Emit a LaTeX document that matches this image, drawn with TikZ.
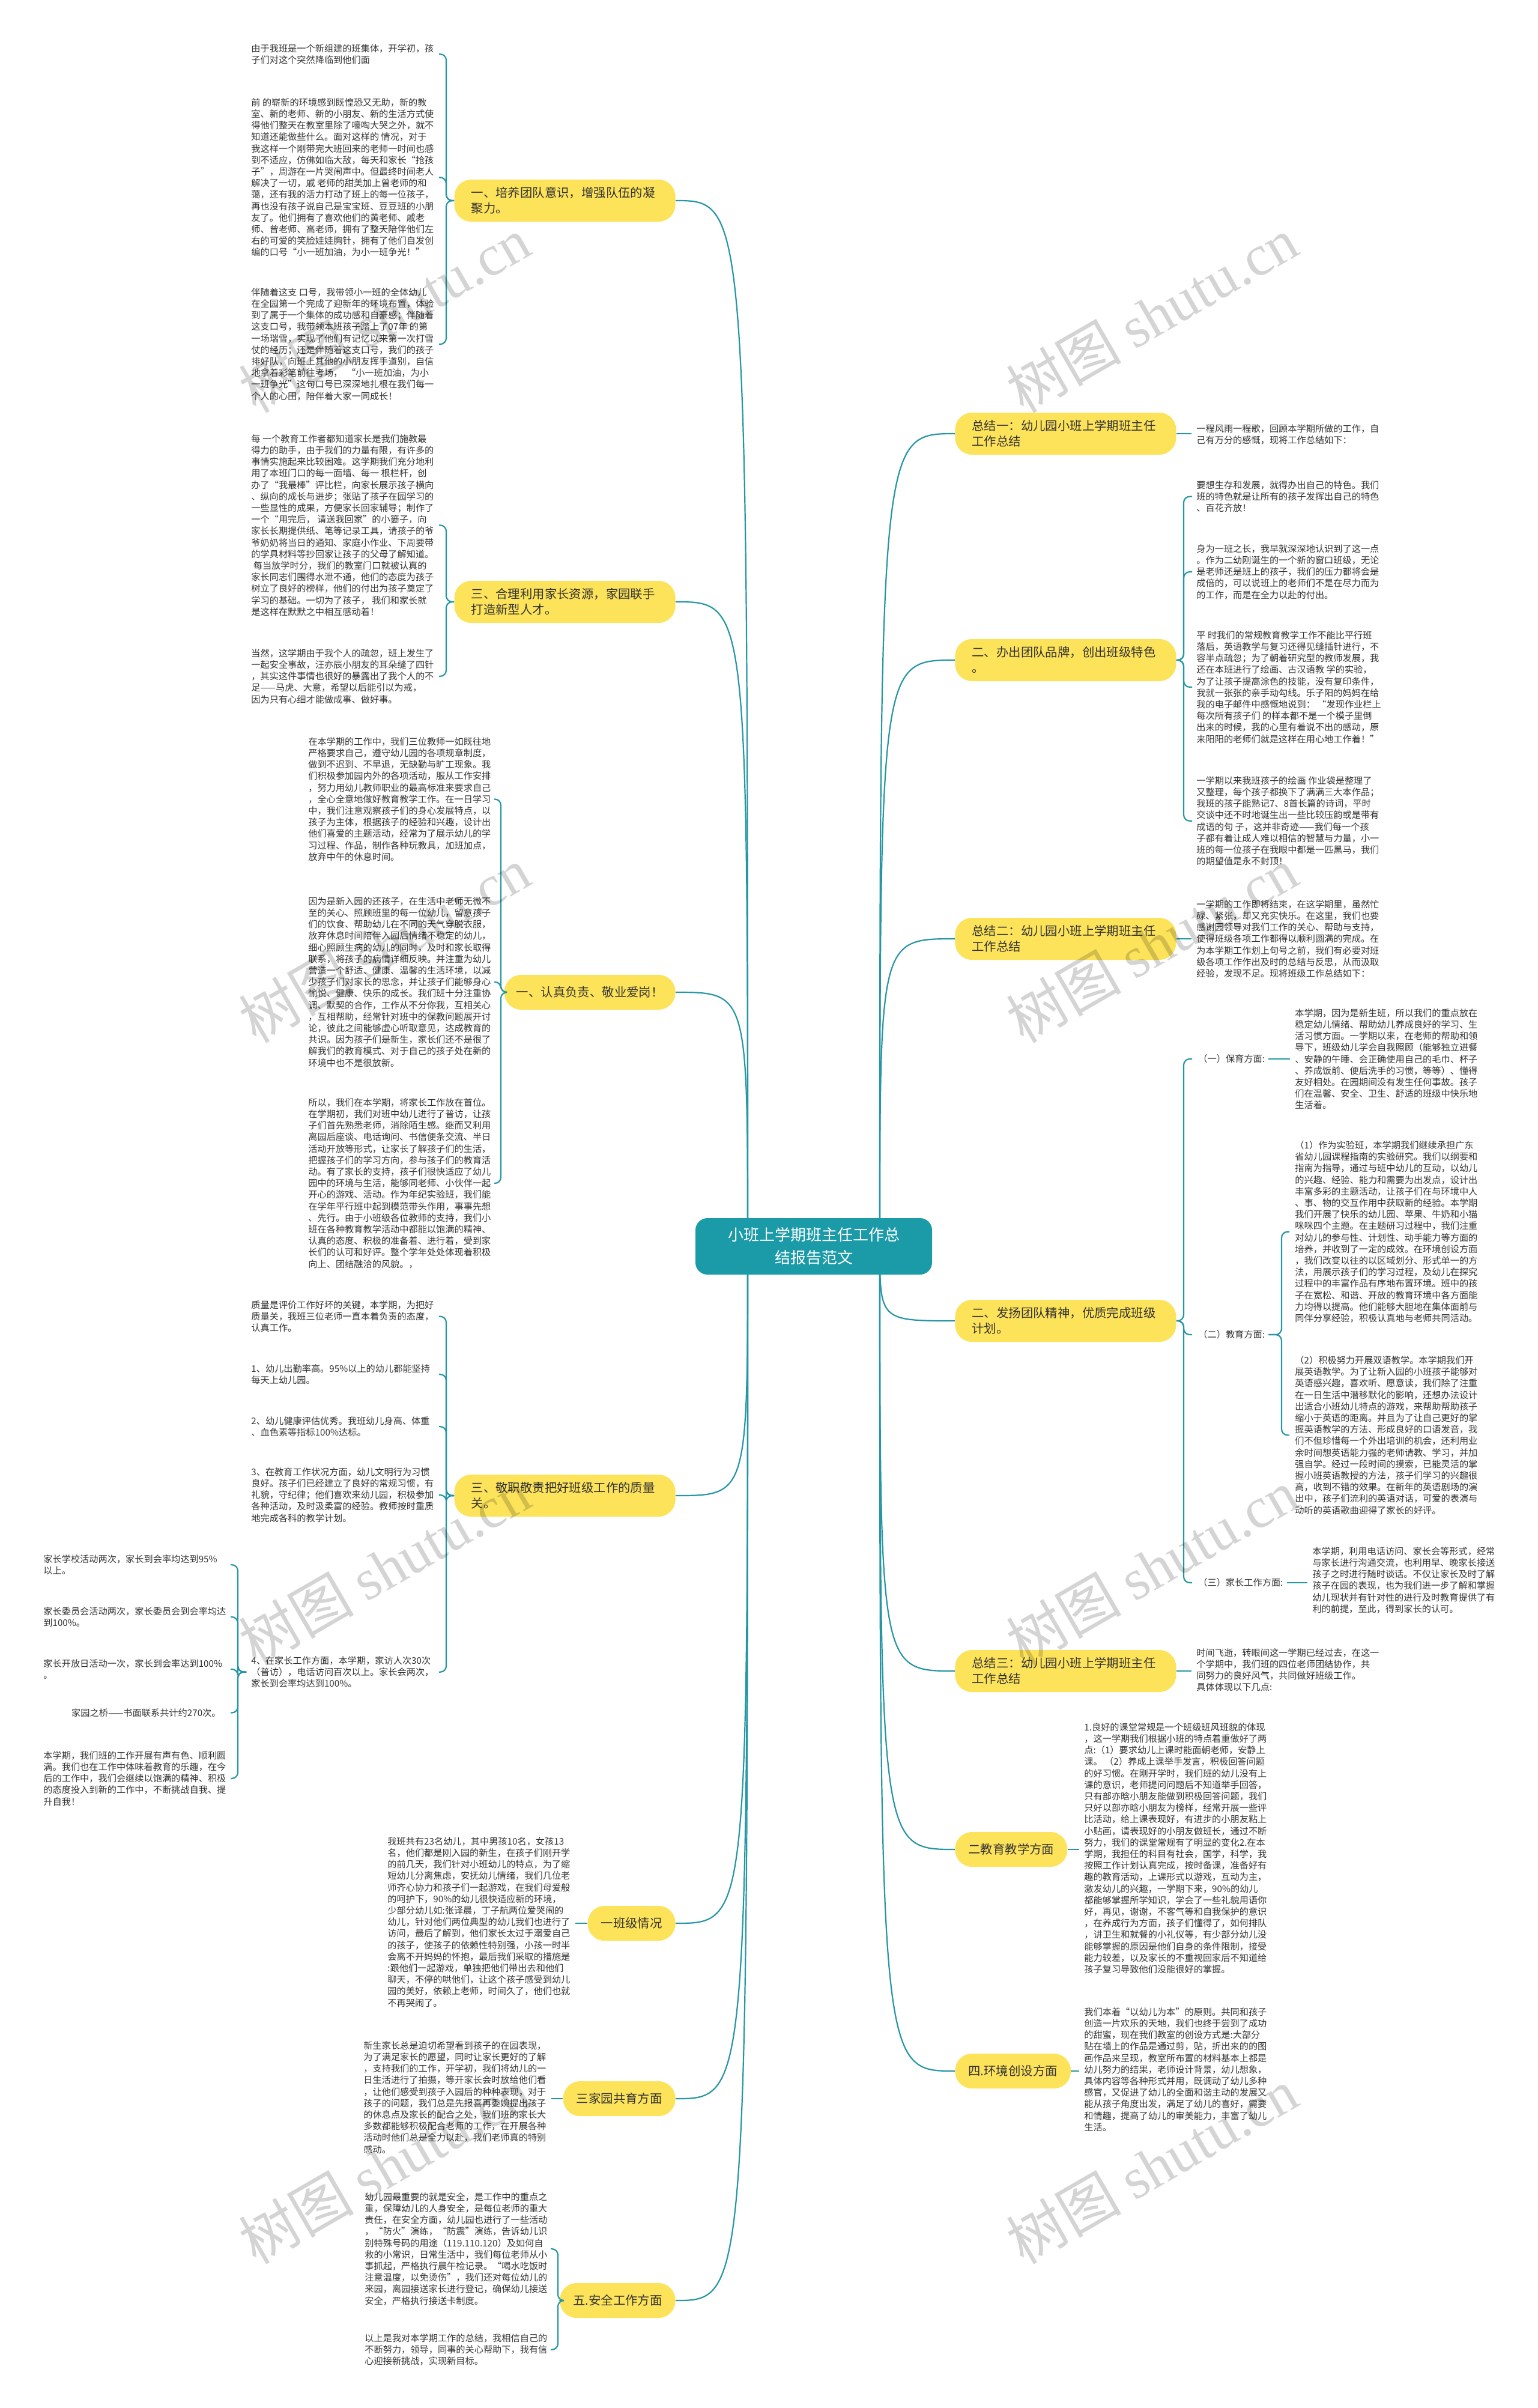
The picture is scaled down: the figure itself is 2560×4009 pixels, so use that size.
\documentclass[tikz,border=0pt]{standalone}
\usepackage{fontspec}
\setmainfont{Noto Sans CJK SC}
\newfontfamily\wmlatin{Liberation Serif}
\definecolor{tealc}{HTML}{1B9AA8}
\definecolor{linec}{HTML}{2596A4}
\definecolor{yel}{HTML}{FDE35A}
\definecolor{txtc}{HTML}{333333}
\begin{document}
\begin{tikzpicture}[x=0.5pt,y=-0.5pt,
 txt/.style={anchor=north west,inner sep=0pt,align=left,text=txtc,font=\fontsize{7.6}{9.6}\selectfont},
 ybox/.style={fill=yel,rounded corners=14pt,inner ysep=0pt,inner xsep=14pt,align=left,text=txtc,font=\fontsize{10.2}{13}\selectfont,minimum height=35pt},
 ybig/.style={ybox,text width=156pt},
 ysmall/.style={ybox,inner xsep=11pt,minimum height=29pt},
 link/.style={draw=linec,line width=1.1pt},
 brk/.style={link,rounded corners=5pt},
 wm/.style={text=black,opacity=0.17,rotate=30,inner sep=0pt}
]
\path[fill=white] (0,0) rectangle (2560,4009);
\useasboundingbox (0,0) rectangle (2560,4009);

% group x coordinates
\coordinate (v1) at (743,0);  \coordinate (h1) at (731,0);
\coordinate (v3) at (834,0);  \coordinate (h3) at (823,0);
\coordinate (vC) at (396,0);  \coordinate (hC) at (384,0);
\coordinate (v7) at (929,0);  \coordinate (h7) at (917,0);
\coordinate (vR) at (1971,0); \coordinate (hR) at (1985,0);
\coordinate (vE) at (2134,0); \coordinate (hE) at (2147,0);

% ---------- left texts ----------
\node[txt] (B1) at (418,73) {由于我班是一个新组建的班集体，开学初，孩\\子们对这个突然降临到他们面};
\node[txt] (B2) at (418,163) {前 的崭新的环境感到既惶恐又无助，新的教\\室、新的老师、新的小朋友、新的生活方式使\\得他们整天在教室里除了嚎啕大哭之外，就不\\知道还能做些什么。面对这样的 情况，对于\\我这样一个刚带完大班回来的老师一时间也感\\到不适应，仿佛如临大敌，每天和家长“抢孩\\子”，周游在一片哭闹声中。但最终时间老人\\解决了一切，戚 老师的甜美加上曾老师的和\\蔼，还有我的活力打动了班上的每一位孩子，\\再也没有孩子说自己是宝宝班、豆豆班的小朋\\友了。他们拥有了喜欢他们的黄老师、戚老\\师、曾老师、高老师，拥有了整天陪伴他们左\\右的可爱的笑脸娃娃胸针，拥有了他们自发创\\编的口号“小一班加油，为小一班争光！”};
\node[txt] (B3) at (418,479) {伴随着这支 口号，我带领小一班的全体幼儿\\在全园第一个完成了迎新年的环境布置，体验\\到了属于一个集体的成功感和自豪感；伴随着\\这支口号，我带领本班孩子踏上了07年 的第\\一场瑞雪，实现了他们有记忆以来第一次打雪\\仗的经历；还是伴随着这支口号，我们的孩子\\排好队，向班上其他的小朋友挥手道别，自信\\地拿着彩笔前往考场，\ \ “小一班加油，为小\\一班争光”这句口号已深深地扎根在我们每一\\个人的心田，陪伴着大家一同成长！};
\node[txt] (B4) at (418,723) {每 一个教育工作者都知道家长是我们施教最\\得力的助手，由于我们的力量有限，有许多的\\事情实施起来比较困难。这学期我们充分地利\\用了本班门口的每一面墙、每一 根栏杆，创\\办了“我最棒”评比栏，向家长展示孩子横向\\、纵向的成长与进步；张贴了孩子在园学习的\\一些显性的成果，方便家长回家辅导；制作了\\一个“用完后， 请送我回家”的小篓子，向\\家长长期提供纸、笔等记录工具，请孩子的爷\\爷奶奶将当日的通知、家庭小作业、下周要带\\的学具材料等抄回家让孩子的父母了解知道。\\\ 每当放学时分，我们的教室门口就被认真的\\家长同志们围得水泄不通，他们的态度为孩子\\树立了良好的榜样，他们的付出为孩子奠定了\\学习的基础。一切为了孩子， 我们和家长就\\是这样在默默之中相互感动着！};
\node[txt] (B5) at (418,1080) {当然，这学期由于我个人的疏忽，班上发生了\\一起安全事故，汪亦辰小朋友的耳朵缝了四针\\，其实这件事情也很好的暴露出了我个人的不\\足——马虎、大意，希望以后能引以为戒，\\因为只有心细才能做成事、做好事。};
\node[txt] (B6) at (513,1227) {在本学期的工作中，我们三位教师一如既往地\\严格要求自己，遵守幼儿园的各项规章制度，\\做到不迟到、不早退，无缺勤与旷工现象。我\\们积极参加园内外的各项活动，服从工作安排\\，努力用幼儿教师职业的最高标准来要求自己\\，全心全意地做好教育教学工作。在一日学习\\中，我们注意观察孩子们的身心发展特点，以\\孩子为主体，根据孩子的经验和兴趣，设计出\\他们喜爱的主题活动，经常为了展示幼儿的学\\习过程、作品，制作各种玩教具，加班加点，\\放弃中午的休息时间。};
\node[txt] (B7) at (513,1493) {因为是新入园的还孩子，在生活中老师无微不\\至的关心、照顾班里的每一位幼儿，留意孩子\\们的饮食、帮助幼儿在不同的天气穿脱衣服，\\放弃休息时间陪伴入园后情绪不稳定的幼儿，\\细心照顾生病的幼儿的同时，及时和家长取得\\联系，将孩子的病情详细反映。并注重为幼儿\\营造一个舒适、健康、温馨的生活环境，以减\\少孩子们对家长的思念，并让孩子们能够身心\\愉悦、健康、快乐的成长。我们班十分注重协\\调、默契的合作，工作从不分你我，互相关心\\，互相帮助，经常针对班中的保教问题展开讨\\论，彼此之间能够虚心听取意见，达成教育的\\共识。因为孩子们是新生，家长们还不是很了\\解我们的教育模式、对于自己的孩子处在新的\\环境中也不是很放新。};
\node[txt] (B8) at (513,1828) {所以，我们在本学期，将家长工作放在首位。\\在学期初，我们对班中幼儿进行了普访，让孩\\子们首先熟悉老师，消除陌生感。继而又利用\\离园后座谈、电话询问、书信便条交流、半日\\活动开放等形式，让家长了解孩子们的生活，\\把握孩子们的学习方向，参与孩子们的教育活\\动。有了家长的支持，孩子们很快适应了幼儿\\园中的环境与生活，能够同老师、小伙伴一起\\开心的游戏、活动。作为年纪实验班，我们能\\在学年平行班中起到模范带头作用，事事先想\\、先行。由于小班级各位教师的支持，我们小\\班在各种教育教学活动中都能以饱满的精神、\\认真的态度、积极的准备着、进行着，受到家\\长们的认可和好评。整个学年处处体现着积极\\向上、团结融洽的风貌。，};
\node[txt] (B9) at (418,2165) {质量是评价工作好坏的关键，本学期，为把好\\质量关，我班三位老师一直本着负责的态度，\\认真工作。};
\node[txt] (B10) at (418,2271) {1、幼儿出勤率高。95\%以上的幼儿都能坚持\\每天上幼儿园。};
\node[txt] (B11) at (418,2358) {2、幼儿健康评估优秀。我班幼儿身高、体重\\、血色素等指标100\%达标。};
\node[txt] (B12) at (418,2443) {3、在教育工作状况方面，幼儿文明行为习惯\\良好。孩子们已经建立了良好的常规习惯，有\\礼貌，守纪律；他们喜欢来幼儿园，积极参加\\各种活动，及时汲柔富的经验。教师按时重质\\地完成各科的教学计划。};
\node[txt] (B13) at (418,2757) {4、在家长工作方面，本学期，家访人次30次\\（普访），电话访问百次以上。家长会两次，\\家长到会率均达到100\%。};
\node[txt] (C1) at (72,2588) {家长学校活动两次，家长到会率均达到95\%\\以上。};
\node[txt] (C2) at (72,2675) {家长委员会活动两次，家长委员会到会率均达\\到100\%。};
\node[txt] (C3) at (72,2762) {家长开放日活动一次，家长到会率达到100\%\\。};
\node[txt,anchor=north east] (C4) at (368,2844) {家园之桥——书面联系共计约270次。};
\node[txt] (C5) at (72,2915) {本学期，我们班的工作开展有声有色、顺利圆\\满。我们也在工作中体味着教育的乐趣，在今\\后的工作中，我们会继续以饱满的精神、积极\\的态度投入到新的工作中，不断挑战自我、提\\升自我！};
\node[txt] (B15) at (645,3058) {我班共有23名幼儿，其中男孩10名，女孩13\\名，他们都是刚入园的新生，在孩子们刚开学\\的前几天，我们针对小班幼儿的特点，为了缩\\短幼儿分离焦虑，安抚幼儿情绪，我们几位老\\师齐心协力和孩子们一起游戏，在我们母爱般\\的呵护下，90\%的幼儿很快适应新的环境，\\少部分幼儿如:张译晨，丁子航两位爱哭闹的\\幼儿，针对他们两位典型的幼儿我们也进行了\\访问，最后了解到，他们家长太过于溺爱自己\\的孩子，使孩子的依赖性特别强，小孩一时半\\会离不开妈妈的怀抱，最后我们采取的措施是\\:跟他们一起游戏，单独把他们带出去和他们\\聊天，不停的哄他们，让这个孩子感受到幼儿\\园的美好，依赖上老师，时间久了，他们也就\\不再哭闹了。};
\node[txt] (B16) at (605,3398) {新生家长总是迫切希望看到孩子的在园表现，\\为了满足家长的愿望，同时让家长更好的了解\\，支持我们的工作，开学初，我们将幼儿的一\\日生活进行了拍摄，等开家长会时放给他们看\\，让他们感受到孩子入园后的种种表现，对于\\孩子的问题，我们总是先报喜再委婉提出孩子\\的休息点及家长的配合之处，我们班的家长大\\多数都能够积极配合老师的工作，在开展各种\\活动时他们总是全力以赴，我们老师真的特别\\感动。};
\node[txt] (B17) at (607,3650) {幼儿园最重要的就是安全，是工作中的重点之\\重，保障幼儿的人身安全，是每位老师的重大\\责任，在安全方面，幼儿园也进行了一些活动\\，“防火”演练，“防震”演练，告诉幼儿识\\别特殊号码的用途（119.110.120）及如何自\\救的小常识，日常生活中，我们每位老师从小\\事抓起，严格执行晨午检记录。“喝水吃饭时\\注意温度，以免烫伤”，我们还对每位幼儿的\\来园，离园接送家长进行登记，确保幼儿接送\\安全，严格执行接送卡制度。};
\node[txt] (B18) at (607,3885) {以上是我对本学期工作的总结，我相信自己的\\不断努力，领导，同事的关心帮助下，我有信\\心迎接新挑战，实现新目标。};

% ---------- right texts ----------
\node[txt] (T1) at (1992,706) {一程风雨一程歌，回顾本学期所做的工作，自\\己有万分的感慨，现将工作总结如下：};
\node[txt] (T2) at (1992,800) {要想生存和发展，就得办出自己的特色。我们\\班的特色就是让所有的孩子发挥出自己的特色\\、百花齐放！};
\node[txt] (T3) at (1992,906) {身为一班之长，我早就深深地认识到了这一点\\。作为二幼刚诞生的一个新的窗口班级，无论\\是老师还是班上的孩子，我们的压力都将会是\\成倍的，可以说班上的老师们不是在尽力而为\\的工作，而是在全力以赴的付出。};
\node[txt] (T4) at (1992,1050) {平 时我们的常规教育教学工作不能比平行班\\落后，英语教学与复习还得见缝插针进行，不\\容半点疏忽；为了朝着研究型的教师发展，我\\还在本班进行了绘画、古汉语教 学的实验，\\为了让孩子提高涂色的技能，没有复印条件，\\我就一张张的亲手动勾线。乐子阳的妈妈在给\\我的电子邮件中感慨地说到：\ “发现作业栏上\\每次所有孩子们 的样本都不是一个模子里倒\\出来的时候，我的心里有着说不出的感动，原\\来阳阳的老师们就是这样在用心地工作着！”};
\node[txt] (T5) at (1992,1292) {一学期以来我班孩子的绘画 作业袋是整理了\\又整理，每个孩子都换下了满满三大本作品；\\我班的孩子能熟记7、8首长篇的诗词，平时\\交谈中还不时地诞生出一些比较压韵或是带有\\成语的句 子，这并非奇迹——我们每一个孩\\子都有着让成人难以相信的智慧与力量，小一\\班的每一位孩子在我眼中都是一匹黑马，我们\\的期望值是永不封顶！};
\node[txt] (T6) at (1992,1498) {一学期的工作即将结束，在这学期里，虽然忙\\碌、紧张，却又充实快乐。在这里，我们也要\\感谢园领导对我们工作的关心、帮助与支持，\\使得班级各项工作都得以顺利圆满的完成。在\\为本学期工作划上句号之前，我们有必要对班\\级各项工作作出及时的总结与反思，从而汲取\\经验，发现不足。现将班级工作总结如下：};
\node[txt,anchor=west] (P1) at (1995,1763) {（一）保育方面:};
\node[txt,anchor=west] (P2) at (1995,2222) {（二）教育方面:};
\node[txt,anchor=west] (P3) at (1995,2635) {（三）家长工作方面:};
\node[txt] (T7) at (2156,1679) {本学期，因为是新生班，所以我们的重点放在\\稳定幼儿情绪、帮助幼儿养成良好的学习、生\\活习惯方面。一学期以来，在老师的帮助和领\\导下，班级幼儿学会自我照顾（能够独立进餐\\、安静的午睡、会正确使用自己的毛巾、杯子\\、养成饭前、便后洗手的习惯，等等）、懂得\\友好相处。在园期间没有发生任何事故。孩子\\们在温馨、安全、卫生、舒适的班级中快乐地\\生活着。};
\node[txt] (T8) at (2156,1899) {（1）作为实验班，本学期我们继续承担广东\\省幼儿园课程指南的实验研究。我们以纲要和\\指南为指导，通过与班中幼儿的互动，以幼儿\\的兴趣、经验、能力和需要为出发点，设计出\\丰富多彩的主题活动，让孩子们在与环境中人\\、事、物的交互作用中获取新的经验。本学期\\我们开展了快乐的幼儿园、苹果、牛奶和小猫\\咪咪四个主题。在主题研习过程中，我们注重\\对幼儿的参与性、计划性、动手能力等方面的\\培养，并收到了一定的成效。在环境创设方面\\，我们改变以往的以区域划分、形式单一的方\\法，用展示孩子们的学习过程，及幼儿在探究\\过程中的丰富作品有序地布置环境。班中的孩\\子在宽松、和谐、开放的教育环境中各方面能\\力均得以提高。他们能够大胆地在集体面前与\\同伴分享经验，积极认真地与老师共同活动。};
\node[txt] (T9) at (2156,2257) {（2）积极努力开展双语教学。本学期我们开\\展英语教学。为了让新入园的小班孩子能够对\\英语感兴趣，喜欢听、愿意读，我们除了注重\\在一日生活中潜移默化的影响，还想办法设计\\出适合小班幼儿特点的游戏，来帮助帮助孩子\\缩小于英语的距离。并且为了让自己更好的掌\\握英语教学的方法、形成良好的口语发音，我\\们不但珍惜每一个外出培训的机会，还利用业\\余时间想英语能力强的老师请教、学习，并加\\强自学。经过一段时间的摸索，已能灵活的掌\\握小班英语教授的方法，孩子们学习的兴趣很\\高，收到不错的效果。在新年的英语剧场的演\\出中，孩子们流利的英语对话，可爱的表演与\\动听的英语歌曲迎得了家长的好评。};
\node[txt] (T10) at (2185,2575) {本学期，利用电话访问、家长会等形式，经常\\与家长进行沟通交流，也利用早、晚家长接送\\孩子之时进行随时谈话。不仅让家长及时了解\\孩子在园的表现，也为我们进一步了解和掌握\\幼儿现状并有针对性的进行及时教育提供了有\\利的前提，至此，得到家长的认可。};
\node[txt] (T11) at (1992,2744) {时间飞逝，转眼间这一学期已经过去，在这一\\个学期中，我们班的四位老师团结协作，共\\同努力的良好风气，共同做好班级工作。\\具体体现以下几点:};
\node[txt] (T12) at (1805,2868) {1.良好的课堂常规是一个班级班风班貌的体现\\，这一学期我们根据小班的特点着重做好了两\\点:（1）要求幼儿上课时能面朝老师，安静上\\课。 （2）养成上课举手发言，积极回答问题\\的好习惯。在刚开学时，我们班的幼儿没有上\\课的意识，老师提问问题后不知道举手回答，\\只有部亦晗小朋友能做到积极回答问题，我们\\只好以部亦晗小朋友为榜样，经常开展一些评\\比活动，给上课表现好，有进步的小朋友粘上\\小贴画，请表现好的小朋友做班长，通过不断\\努力，我们的课堂常规有了明显的变化2.在本\\学期，我担任的科目有社会，国学，科学，我\\按照工作计划认真完成，按时备课，准备好有\\趣的教育活动，上课形式以游戏，互动为主，\\激发幼儿的兴趣，一学期下来，90\%的幼儿\\都能够掌握所学知识，学会了一些礼貌用语你\\好，再见，谢谢，不客气等和自我保护的意识\\，在养成行为方面，孩子们懂得了，如何排队\\，讲卫生和就餐的小礼仪等，有少部分幼儿没\\能够掌握的原因是他们自身的条件限制，接受\\能力较差，以及家长的不重视回家后不知道给\\孩子复习导致他们没能很好的掌握。};
\node[txt] (T13) at (1805,3342) {我们本着“以幼儿为本”的原则。共同和孩子\\创造一片欢乐的天地，我们也终于尝到了成功\\的甜蜜，现在我们教室的创设方式是:大部分\\贴在墙上的作品是通过剪，贴，折出来的的图\\画作品来呈现，教室所布置的材料基本上都是\\幼儿努力的结果，老师设计背景，幼儿想象，\\具体内容等各种形式并用，既调动了幼儿多种\\感官，又促进了幼儿的全面和谐主动的发展又\\能从孩子角度出发，满足了幼儿的喜好，需要\\和情趣，提高了幼儿的审美能力，丰富了幼儿\\生活。};

% ---------- yellow nodes ----------
\node[ybig,anchor=east] (L1) at (1125,334) {一、培养团队意识，增强队伍的凝\\聚力。};
\node[ybig,anchor=east] (L2) at (1125,1002) {三、合理利用家长资源，家园联手\\打造新型人才。};
\node[ysmall,anchor=east,inner xsep=10pt] (L3) at (1125,1652) {一、认真负责、敬业爱岗！};
\node[ybig,anchor=east] (L4) at (1125,2490) {三、敬职敬责把好班级工作的质量\\关。};
\node[ysmall,anchor=east] (L5) at (1125,3202) {一班级情况};
\node[ysmall,anchor=east] (L6) at (1125,3494) {三家园共育方面};
\node[ysmall,anchor=east] (L7) at (1125,3830) {五.安全工作方面};
\node[ybig,anchor=west] (R1) at (1590,722) {总结一：幼儿园小班上学期班主任\\工作总结};
\node[ybig,anchor=west] (R2) at (1590,1099) {二、办出团队品牌，创出班级特色\\。};
\node[ybig,anchor=west] (R3) at (1590,1563) {总结二：幼儿园小班上学期班主任\\工作总结};
\node[ybig,anchor=west] (R4) at (1590,2199) {二、发扬团队精神，优质完成班级\\计划。};
\node[ybig,anchor=west] (R5) at (1590,2782) {总结三：幼儿园小班上学期班主任\\工作总结};
\node[ysmall,anchor=west] (R6) at (1590,3079) {二教育教学方面};
\node[ysmall,anchor=west] (R7) at (1590,3448) {四.环境创设方面};

% ---------- center ----------
\coordinate (cL) at (1245,2075);
\coordinate (cR) at (1465,2075);
\foreach \n in {L1,L2,L3,L4,L5,L6,L7}
  \draw[link] (cL) .. controls (cL |- \n.east) .. (\n.east);
\foreach \n in {R1,R2,R3,R4,R5,R6,R7}
  \draw[link] (cR) .. controls (cR |- \n.west) .. (\n.west);
\node[fill=tealc,text=white,rounded corners=10pt,minimum width=197pt,minimum height=47pt,align=center,font=\fontsize{13}{19}\selectfont,inner sep=0pt] (C) at (1355,2075) {小班上学期班主任工作总\\结报告范文};

% ---------- brackets left ----------
\foreach \c in {B1,B2,B3} \draw[brk] (L1.west) -- (L1.west -| v1) |- (\c.east -| h1);
\foreach \c in {B4,B5} \draw[brk] (L2.west) -- (L2.west -| v1) |- (\c.east -| h1);
\foreach \c in {B6,B7,B8} \draw[brk] (L3.west) -- (L3.west -| v3) |- (\c.east -| h3);
\foreach \c in {B9,B10,B11,B12,B13} \draw[brk] (L4.west) -- (L4.west -| v1) |- (\c.east -| h1);
\foreach \c in {C1,C2,C3,C4,C5} \draw[brk] ([xshift=-4pt]B13.west) -- (B13.west -| vC) |- (\c.east -| hC);
\draw[link] ([xshift=4pt]B15.east |- L5.west) -- (L5.west);
\draw[link] ([xshift=4pt]B16.east |- L6.west) -- (L6.west);
\foreach \c in {B17,B18} \draw[brk] (L7.west) -- (L7.west -| v7) |- (\c.east -| h7);

% ---------- brackets right ----------
\draw[link] (R1.east) -- ([xshift=-4pt]T1.west |- R1.east);
\foreach \c in {T2,T3,T4,T5} \draw[brk] (R2.east) -- (R2.east -| vR) |- (\c.west -| hR);
\draw[link] (R3.east) -- ([xshift=-4pt]T6.west |- R3.east);
\foreach \c in {P1,P2,P3} \draw[brk] (R4.east) -- (R4.east -| vR) |- (\c.west -| hR);
\draw[link] ([xshift=3pt]P1.east) -- ([xshift=-4pt]T7.west |- P1.east);
\foreach \c in {T8,T9} \draw[brk] ([xshift=3pt]P2.east) -- (P2.east -| vE) |- (\c.west -| hE);
\draw[link] ([xshift=3pt]P3.east) -- ([xshift=-4pt]T10.west |- P3.east);
\draw[link] (R5.east) -- ([xshift=-4pt]T11.west |- R5.east);
\draw[link] (R6.east) -- ([xshift=-4pt]T12.west |- R6.east);
\draw[link] (R7.east) -- ([xshift=-4pt]T13.west |- R7.east);

% ---------- watermarks ----------
\foreach \p/\q [count=\i] in {640/524,1918/524,640/1573,1918/1573,640/2609,1918/2609,640/3606,1918/3606}
  \node[wm] (W\i) at (\p,\q) {\fontsize{48}{48}\selectfont 树图\ {\wmlatin shutu.cn}};
\end{tikzpicture}
\end{document}
